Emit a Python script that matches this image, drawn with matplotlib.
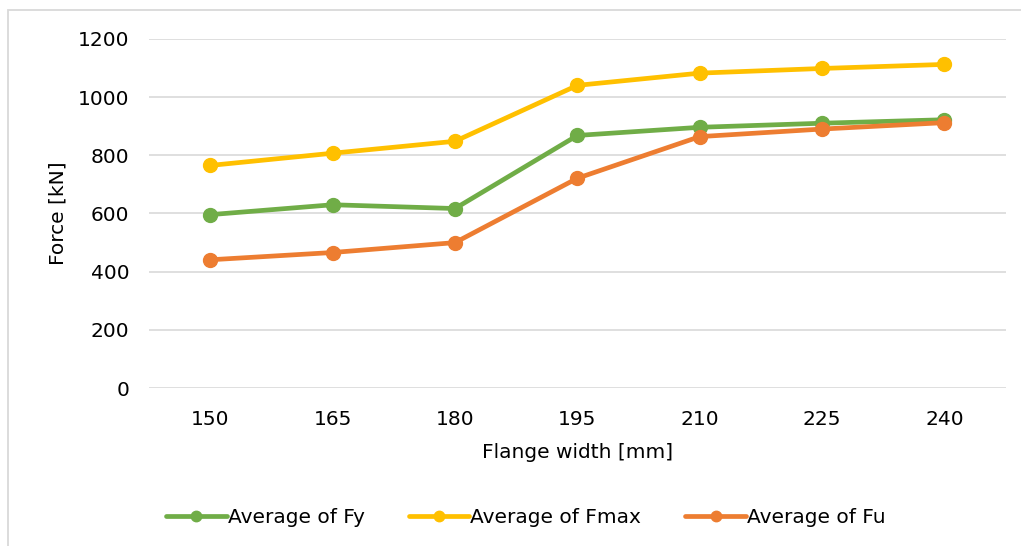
import matplotlib.pyplot as plt
from matplotlib.patches import Rectangle

flange_width = ["150", "165", "180", "195", "210", "225", "240"]
avg_fy = [596, 630, 617, 868, 896, 910, 922]
avg_fmax = [765, 807, 848, 1040, 1082, 1098, 1112]
avg_fu = [441, 466, 500, 721, 864, 890, 912]

series = [
    ("Average of Fy", avg_fy, "#70AD47"),
    ("Average of Fmax", avg_fmax, "#FFC000"),
    ("Average of Fu", avg_fu, "#ED7D31"),
]

plt.rcParams["font.family"] = "DejaVu Sans"
fig = plt.figure(figsize=(10.21, 5.46), dpi=100)
ax = fig.add_axes([0.146, 0.289, 0.839, 0.64])

x = range(len(flange_width))
for label, vals, color in series:
    ax.plot(x, vals, color=color, linewidth=3.4, marker="o", markersize=10,
            label=label, solid_capstyle="round")

ax.set_xlim(-0.5, len(flange_width) - 0.5)
ax.set_ylim(0, 1200)
ax.set_yticks(range(0, 1201, 200))
ax.set_xticks(list(x))
ax.set_xticklabels(flange_width)
ax.grid(axis="y", color="#D9D9D9", linewidth=1.2)
ax.set_axisbelow(True)
for s in ax.spines.values():
    s.set_visible(False)
ax.tick_params(length=0, labelsize=14.5, pad=16)
ax.tick_params(axis="y", pad=14)
ax.set_xlabel("Flange width [mm]", fontsize=14.5, labelpad=10)
ax.set_ylabel("Force [kN]", fontsize=14.5, labelpad=8)

fig.legend(loc="center", bbox_to_anchor=(0.515, 0.052), ncol=3, frameon=False,
           fontsize=14.5, handlelength=3.0, columnspacing=2.2, handletextpad=0.05,
           markerscale=0.75)

# outer chart border
fig.patches.append(Rectangle((8 / 1021, -0.2), 1.2, 0.2 + (1 - 10 / 546),
                             transform=fig.transFigure, fill=False,
                             edgecolor="#D9D9D9", linewidth=1.3))

fig.savefig("out.png", dpi=100)
